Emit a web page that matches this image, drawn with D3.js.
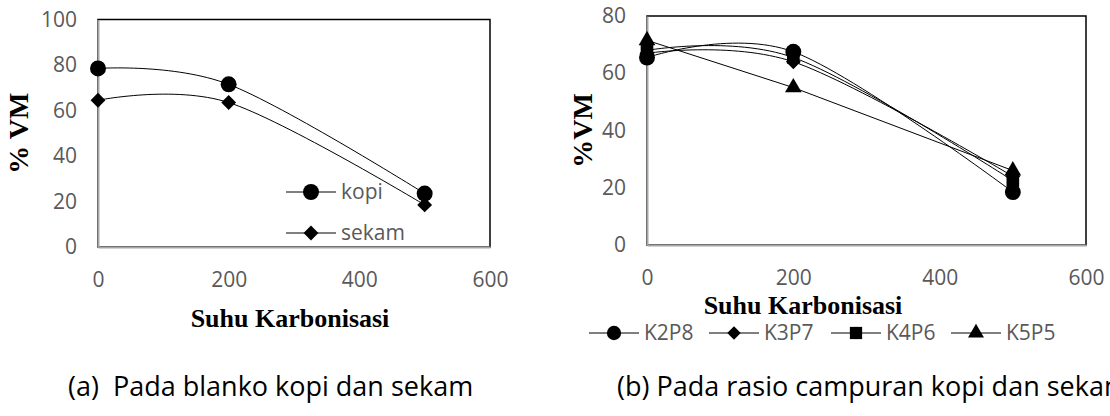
<!DOCTYPE html>
<html>
<head>
<meta charset="utf-8">
<script src="https://cdn.jsdelivr.net/npm/d3@7"></script>
<style>
  html, body { margin: 0; padding: 0; background: #fff; }
  .tick text { font-family: 'Open Sans', sans-serif; font-size: 21px; fill: #595959; }
  .axis-title { font-family: 'Liberation Serif', serif; font-weight: bold; font-size: 26px; fill: #000; }
  .y-title { font-size: 28px; }
  .legend-text { font-family: 'Open Sans', sans-serif; font-size: 21px; fill: #595959; }
  .caption { font-family: 'Open Sans', sans-serif; font-size: 27px; fill: #000; }
</style>
</head>
<body>
<svg id="chart" width="1110" height="416"></svg>
<script>
// Data
const suhu = [0, 200, 500];
const xTicks = [0, 200, 400, 600];

// (a) blanko
const kopi = [78.5, 71.5, 23.5];
const sekam = [64.5, 63.5, 18.5];
const yTicksA = [0, 20, 40, 60, 80, 100];

// (b) rasio campuran
const k2p8 = [65.5, 67.5, 18.5];
const k3p7 = [67, 64, 24];
const k4p6 = [68, 65.5, 22.5];
const k5p5 = [71.5, 55, 26];
const yTicksB = [0, 20, 40, 60, 80];

const svg = d3.select('#chart');
svg.append('rect').attr('width', 1110).attr('height', 416).attr('fill', '#fff');

// marker shapes, Excel style
const markers = {
  circle: d3.symbol().type(d3.symbolCircle).size(200),
  diamond: d3.symbol().type(d3.symbolSquare).size(110),
  square: d3.symbol().type(d3.symbolSquare).size(160),
  triangle: d3.symbol().type(d3.symbolTriangle).size(120),
};
const legendMarkers = {
  circle: d3.symbol().type(d3.symbolCircle).size(160),
  diamond: d3.symbol().type(d3.symbolSquare).size(90),
  square: d3.symbol().type(d3.symbolSquare).size(150),
  triangle: d3.symbol().type(d3.symbolTriangle).size(110),
};

function drawMarker(g, gen, shape, x, y) {
  g.append('path')
    .attr('d', gen[shape]())
    .attr('transform', `translate(${x},${y})` + (shape === 'diamond' ? ' rotate(45)' : ''))
    .attr('fill', '#000');
}

function drawPanel(p) {
  const x = d3.scaleLinear().domain([0, 600]).range([p.left, p.right]);
  const y = d3.scaleLinear().domain([0, p.yMax]).range([p.bottom, p.top]);
  const g = svg.append('g');

  // plot border (top and right are black)
  g.append('rect')
    .attr('x', p.left).attr('y', p.top)
    .attr('width', p.right - p.left).attr('height', p.bottom - p.top)
    .attr('fill', 'none').attr('stroke', '#000').attr('stroke-width', 1.5);

  // axes
  const yAxis = d3.axisLeft(y).tickValues(p.yTicks).tickSize(0).tickPadding(21);
  g.append('g').attr('transform', `translate(${p.left},0)`).call(yAxis)
    .call(s => s.select('.domain').attr('stroke', '#a6a6a6').attr('stroke-width', 2));
  const xAxis = d3.axisBottom(x).tickValues(xTicks).tickSize(0).tickPadding(25);
  g.append('g').attr('transform', `translate(0,${p.bottom})`).call(xAxis)
    .call(s => s.select('.domain').attr('stroke', '#a6a6a6').attr('stroke-width', 2));

  // series
  p.series.forEach(s => {
    const pts = suhu.map((d, i) => [x(d), y(s.values[i])]);
    const line = d3.line().curve(s.smooth ? d3.curveCardinal.tension(0) : d3.curveLinear);
    g.append('path').attr('d', line(pts))
      .attr('fill', 'none').attr('stroke', '#000').attr('stroke-width', 1);
  });
  p.series.forEach(s => {
    suhu.forEach((d, i) => drawMarker(g, markers, s.shape, x(d), y(s.values[i])));
  });

  // axis titles
  g.append('text').attr('class', 'axis-title y-title')
    .attr('transform', `translate(${p.yTitleX},${(p.top + p.bottom) / 2}) rotate(-90)`)
    .attr('text-anchor', 'middle').attr('dy', '0.35em')
    .text(p.yTitle);
  g.append('text').attr('class', 'axis-title')
    .attr('x', p.xTitleX).attr('y', p.xTitleY)
    .attr('text-anchor', 'middle').attr('dy', '0.35em')
    .text('Suhu Karbonisasi');

  // legend
  p.series.forEach((s, i) => {
    const lx = p.legend[i][0];
    const ly = p.legend[i][1];
    g.append('line').attr('x1', lx - 25).attr('x2', lx + 25)
      .attr('y1', ly).attr('y2', ly).attr('stroke', '#000').attr('stroke-width', 1);
    drawMarker(g, p.legendGen, s.shape, lx, ly);
    g.append('text').attr('class', 'legend-text')
      .attr('x', lx + 30).attr('y', ly).attr('dy', '0.35em')
      .text(s.name);
  });

  // caption
  svg.append('text').attr('class', 'caption')
    .attr('x', p.captionX).attr('y', 387).attr('dy', '0.35em')
    .attr('xml:space', 'preserve')
    .text(p.caption);
}

drawPanel({
  left: 98, right: 490, top: 19.5, bottom: 247, yMax: 100, yTicks: yTicksA,
  yTitle: '% VM', yTitleX: 18, xTitleX: 290, xTitleY: 318,
  series: [
    { name: 'kopi', values: kopi, shape: 'circle', smooth: true },
    { name: 'sekam', values: sekam, shape: 'diamond', smooth: true },
  ],
  legend: [[311, 192], [311, 233]], legendGen: markers,
  captionX: 68, caption: '(a)  Pada blanko kopi dan sekam',
});

drawPanel({
  left: 647, right: 1086, top: 16, bottom: 245, yMax: 80, yTicks: yTicksB,
  yTitle: '%VM', yTitleX: 582, xTitleX: 803, xTitleY: 305,
  series: [
    { name: 'K2P8', values: k2p8, shape: 'circle', smooth: true },
    { name: 'K3P7', values: k3p7, shape: 'diamond', smooth: true },
    { name: 'K4P6', values: k4p6, shape: 'square', smooth: true },
    { name: 'K5P5', values: k5p5, shape: 'triangle', smooth: false },
  ],
  legend: [[614, 333], [734, 333], [856, 333], [976, 333]], legendGen: legendMarkers,
  captionX: 617, caption: '(b) Pada rasio campuran kopi dan sekam',
});
</script>
</body>
</html>
